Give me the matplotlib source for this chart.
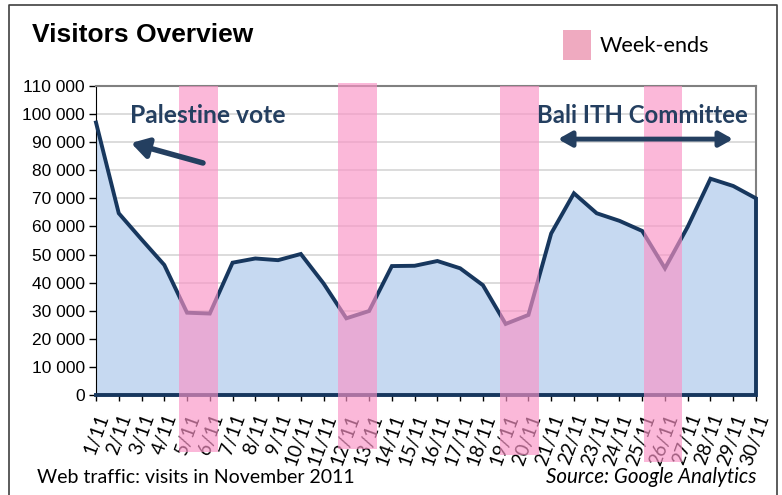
import matplotlib
matplotlib.use('Agg')
import matplotlib.pyplot as plt
from matplotlib.patches import Rectangle
from matplotlib.lines import Line2D
from matplotlib.ticker import FuncFormatter

# visits per day, November 2011
days = list(range(1, 31))
day_labels = [f"{d}/11" for d in days]
visits = [97000, 64700, 55400, 46300, 29300, 29000, 47100, 48600, 48000, 50200,
          39700, 27300, 29900, 45900, 46000, 47700, 45100, 39100, 25300, 28500,
          57500, 71800, 64700, 62000, 58400, 45100, 59900, 77000, 74400, 70000]

# week-end bands (start day, end day, bottom, top in axes fraction)
weekends = [(4.65, 6.36, -0.184, 1.0),
            (11.63, 13.35, -0.175, 1.01),
            (18.75, 20.46, -0.194, 1.0),
            (25.08, 26.75, -0.217, 1.0)]

navy = "#17375E"
note = "#243F60"
fill = "#C6D9F1"
pink = "#FA93C6"

W, H = 782, 495
fig = plt.figure(figsize=(W / 100, H / 100), dpi=100)
ax = fig.add_axes([96 / W, 1 - 395 / H, 660 / W, 309 / H])

ax.fill_between(days, visits, 0, color=fill, lw=0, zorder=1)
ax.plot(days + [30, 1], visits + [0, 0], color=navy, lw=2.8,
        solid_joinstyle='miter', clip_on=False, zorder=3)

for x0, x1, b, t in weekends:
    ax.axvspan(x0, x1, ymin=b, ymax=t, color=pink, alpha=0.65, lw=0,
               clip_on=False, zorder=5)

ax.set_xlim(1, 30)
ax.set_ylim(0, 110000)
ax.set_yticks(range(0, 110001, 10000))
ax.yaxis.set_major_formatter(FuncFormatter(lambda v, p: f"{int(v):,}".replace(",", " ")))
ax.set_xticks(days)
ax.set_xticklabels(day_labels, rotation=70, ha='right', va='top',
                   rotation_mode='anchor', fontfamily='Lato', fontsize=13.8)
ax.tick_params(axis='y', length=5, width=1, color='black', labelsize=12.5, pad=3)
ax.tick_params(axis='x', length=4, width=1, color='black', pad=8)
for lab in ax.get_yticklabels():
    lab.set_fontfamily('Liberation Sans')

ax.grid(axis='y', color='#D9D9D9', lw=1.3, zorder=0)
ax.set_axisbelow(True)
ax.spines['left'].set_color('black')
ax.spines['bottom'].set_visible(False)
ax.spines['top'].set_color('#808080')
ax.spines['right'].set_color('#808080')
for s in ('top', 'right'):
    ax.spines[s].set_linewidth(1.5)

# annotations
ax.text(2.49, 96800, "Palestine vote", fontfamily='Lato', fontweight='bold',
        fontsize=17.7, color=note, va='baseline', zorder=6)
ax.annotate("", xy=(2.54, 89700), xytext=(5.70, 82600),
            arrowprops=dict(arrowstyle='-|>,head_length=1.0,head_width=0.6',
                            lw=4, color=note, shrinkA=0, shrinkB=0), zorder=6)
ax.text(20.38, 96800, "Bali ITH Committee", fontfamily='Lato', fontweight='bold',
        fontsize=17.3, color=note, va='baseline', zorder=6)
ax.annotate("", xy=(28.99, 91100), xytext=(21.3, 91100),
            arrowprops=dict(arrowstyle='<|-|>,head_length=0.8,head_width=0.45',
                            lw=3.5, color=note, shrinkA=0, shrinkB=0), zorder=6)


def px(x, y):
    return x / W, 1 - y / H


# outer frame (no bottom edge)
fig.add_artist(Line2D([9 / W, 9 / W, 777 / W, 777 / W], [0, 1 - 5 / H, 1 - 5 / H, 0],
                      color='#404040', lw=1.2))

fig.text(*px(32, 42), "Visitors Overview", fontfamily='Liberation Sans',
         fontweight='bold', fontsize=19, va='baseline')
fig.add_artist(Rectangle(px(563, 60), 28 / W, 30 / H, color='#EFAAC0', lw=0))
fig.text(*px(600, 52), "Week-ends", fontfamily='Lato', fontsize=15.6, va='baseline')
fig.text(*px(37, 483), "Web traffic: visits in November 2011", fontfamily='Lato',
         fontsize=14, va='baseline')
fig.text(*px(757, 483), "Source: Google Analytics", fontfamily='Lato',
         fontstyle='italic', fontsize=14.8, va='baseline', ha='right')

fig.savefig("out.png", dpi=100)
